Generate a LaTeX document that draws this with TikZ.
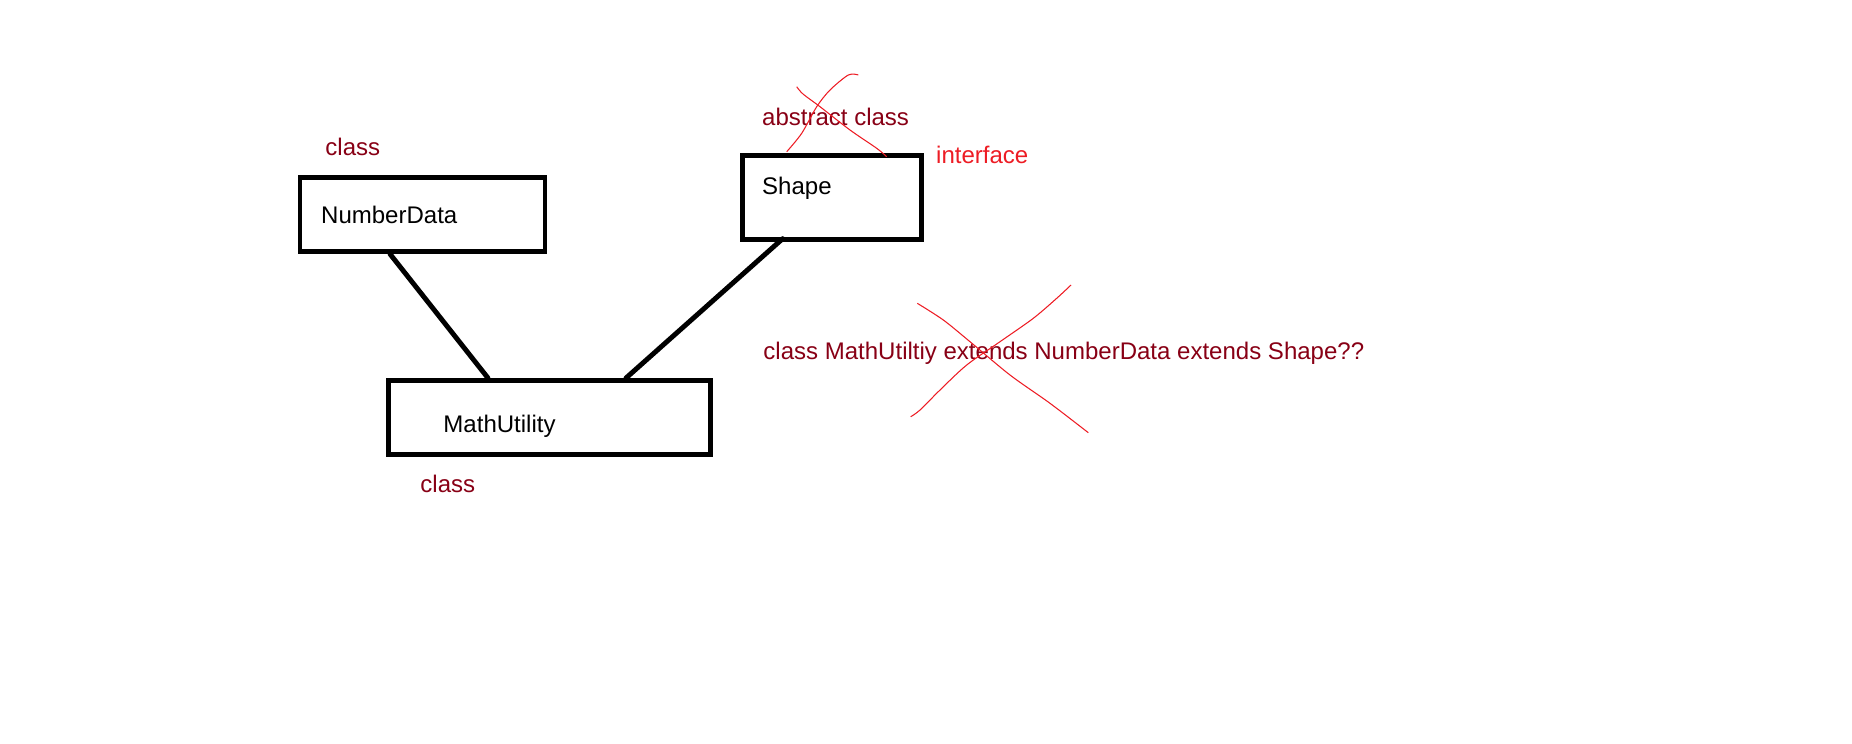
\documentclass[tikz,border=0pt]{standalone}
\usepackage{fontspec}
\usepackage{xcolor}
\setmainfont{Liberation Sans}
\definecolor{darkred}{RGB}{136,0,21}
\definecolor{paintred}{RGB}{237,28,36}

\begin{document}
\begin{tikzpicture}[scale=0.15,
  box/.style={draw=black, line width=2.1pt, rectangle},
  link/.style={black, line width=2.1pt, line cap=round},
  note/.style={text=darkred, anchor=base west},
  scribble/.style={paintred, line width=0.45pt}]
\tikzstyle{every node}+=[inner sep=0pt, font=\fontsize{10.25}{12}\selectfont]
\useasboundingbox (0,0) rectangle (185.2,-74.3);
\node [box, minimum width=3.675cm, minimum height=1.11cm] (numdata) at (42.25,-21.45) {};
\node [anchor=base west] (numdatatxt) at (32.07,-22.3) {NumberData};
\node [note] (numdatacls) at (32.5,-15.5) {class};
\node [box, minimum width=4.83cm, minimum height=1.11cm] (mathutil) at (54.96,-41.75) {};
\node [anchor=base west] (mathutiltxt) at (44.3,-43.25) {MathUtility};
\node [note] (mathutilcls) at (42.0,-49.2) {class};
\node [box, minimum width=2.69cm, minimum height=1.26cm] (shape) at (83.17,-19.72) {};
\node [anchor=base west] (shapetxt) at (76.17,-19.4) {Shape};
\node [note] (shapeabs) at (76.17,-12.5) {abstract class};
\node [note, text=paintred] (shapeiface) at (93.57,-16.3) {interface};
\node [note] (question) at (76.3,-35.9) {class MathUtiltiy extends NumberData extends Shape??};
\draw [link] ([shift={(-3.25,0)}]numdata.south) -- ([shift={(-6.16,0)}]mathutil.north);
\draw [link] ([shift={(-4.9,0.3)}]shape.south) -- ([shift={(7.64,0)}]mathutil.north);
% crossed out by hand
\draw [scribble] plot [smooth] coordinates {(79.67,-8.67) (80.3,-9.4) (82.0,-10.67) (85.0,-13.0) (87.67,-14.83) (88.67,-15.67)};
\draw [scribble] plot [smooth] coordinates {(85.83,-7.5) (84.83,-7.5) (83.0,-9.0) (81.67,-10.67) (80.17,-13.33) (78.67,-15.17)};
\draw [scribble] plot [smooth] coordinates {(91.73,-30.33) (94.33,-32.0) (97.0,-34.17) (101.0,-37.5) (105.0,-40.33) (108.83,-43.27)};
\draw [scribble] plot [smooth] coordinates {(107.1,-28.5) (105.67,-29.83) (103.33,-31.83) (100.0,-34.17) (96.67,-36.5) (94.0,-39.0) (92.0,-41.0) (91.07,-41.67)};
\end{tikzpicture}
\end{document}
